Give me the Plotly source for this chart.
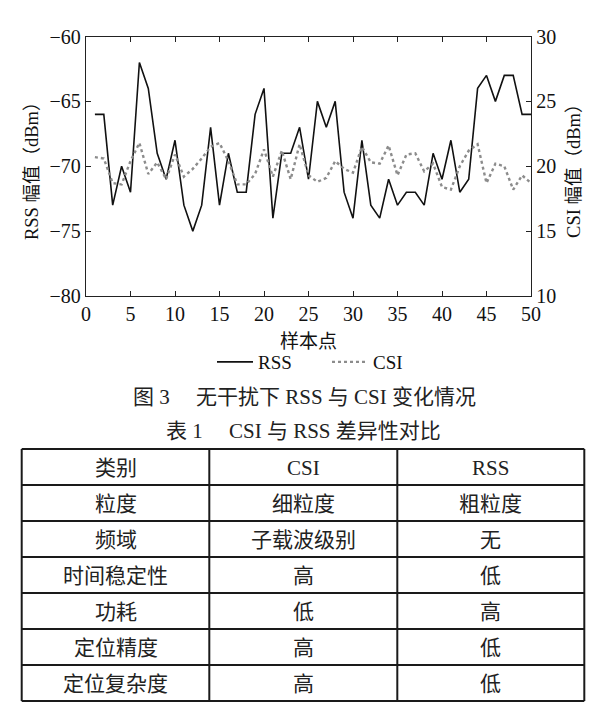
import plotly.graph_objects as go

W, H = 600, 721

sample = list(range(1, 51))
rss = [-66, -66, -73, -70, -72, -62, -64, -69, -71, -68,
       -73, -75, -73, -67, -73, -69, -72, -72, -66, -64,
       -74, -69, -69, -67, -71, -65, -67, -65, -72, -74,
       -68, -73, -74, -71, -73, -72, -72, -73, -69, -71,
       -68, -72, -71, -64, -63, -65, -63, -63, -66, -66]
csi = [20.7, 20.6, 18.7, 18.6, 20.4, 21.8, 19.4, 20.3, 19.0, 20.9,
       19.2, 19.8, 20.6, 21.5, 21.8, 20.4, 18.6, 18.6, 19.4, 21.3,
       19.2, 21.2, 19.0, 21.7, 19.3, 18.8, 19.1, 20.4, 19.8, 19.5,
       21.5, 20.3, 20.2, 21.6, 19.3, 20.9, 21.0, 19.6, 20.2, 18.4,
       18.2, 20.0, 21.2, 21.7, 18.7, 20.2, 20.0, 18.2, 19.3, 18.7]

x_ticks = [0, 5, 10, 15, 20, 25, 30, 35, 40, 45, 50]
y_ticks = [-80, -75, -70, -65, -60]
y2_ticks = [10, 15, 20, 25, 30]

fig_caption = "图 3\u3000 无干扰下 RSS 与 CSI 变化情况"
table_caption = "表 1\u3000 CSI 与 RSS 差异性对比"
table_header = ["类别", "CSI", "RSS"]
row_labels = ["粒度", "频域", "时间稳定性", "功耗", "定位精度", "定位复杂度"]
csi_props = ["细粒度", "子载波级别", "高", "低", "高", "高"]
rss_props = ["粗粒度", "无", "低", "高", "低", "低"]

FONT = "Liberation Serif, Times New Roman, Noto Sans CJK SC"

def px(x):
    return x / W

def py(y):
    return 1 - y / H

fig = go.Figure()
fig.add_trace(go.Scatter(x=sample, y=rss, mode="lines", name="RSS",
                         line=dict(color="#111111", width=1.6)))
fig.add_trace(go.Scatter(x=sample, y=csi, mode="lines", name="CSI", yaxis="y2",
                         line=dict(color="#8c8c8c", width=2.4, dash="dot")))

axis_common = dict(showgrid=False, zeroline=False, showline=True, linecolor="#222222",
                   linewidth=1.3, ticks="inside", ticklen=5, tickwidth=1.2, automargin=False,
                   tickcolor="#222222", tickfont=dict(family=FONT, size=20, color="#111111"))

fig.update_layout(
    width=W, height=H,
    margin=dict(l=0, r=0, t=0, b=0, autoexpand=False),
    paper_bgcolor="white", plot_bgcolor="white",
    font=dict(family=FONT, color="#111111"),
    xaxis=dict(domain=[px(86), px(531)], range=[0, 50], tickvals=x_ticks,
               mirror="ticks",
               title=dict(text="样本点", font=dict(family=FONT, size=19), standoff=10),
               **axis_common),
    yaxis=dict(domain=[py(296), py(36.5)], range=[-80, -60], tickvals=y_ticks,
               title=dict(text="RSS 幅值（dBm）", font=dict(family=FONT, size=18.5), standoff=6),
               **axis_common),
    yaxis2=dict(overlaying="y", side="right", anchor="x", range=[10, 30], tickvals=y2_ticks,
                title=dict(text="CSI 幅值（dBm）", font=dict(family=FONT, size=18.5), standoff=11),
                **axis_common),
    legend=dict(orientation="h", x=px(212), y=py(362), xanchor="left", yanchor="middle",
                font=dict(family=FONT, size=19), itemwidth=36, entrywidth=64,
                bgcolor="rgba(0,0,0,0)"),
    showlegend=True,
)

annotations = [
    dict(text=fig_caption, x=px(304), y=py(397), xref="paper", yref="paper",
         showarrow=False, font=dict(family=FONT, size=21, color="#222222")),
    dict(text=table_caption, x=px(303), y=py(431), xref="paper", yref="paper",
         showarrow=False, font=dict(family=FONT, size=21, color="#222222")),
]

col_x = [21.7, 209.3, 397.3, 584.3]
top, row_h = 449, 36
n_rows = 1 + len(row_labels)
rows = [table_header] + [[a, b, c] for a, b, c in zip(row_labels, csi_props, rss_props)]
for r, row in enumerate(rows):
    cy = top + row_h * (r + 0.5)
    for c, txt in enumerate(row):
        cx = (col_x[c] + col_x[c + 1]) / 2
        annotations.append(dict(text=txt, x=px(cx), y=py(cy + 1), xref="paper", yref="paper",
                                xanchor="center", yanchor="middle", showarrow=False,
                                font=dict(family=FONT, size=21, color="#222222")))

shapes = []
for k in range(n_rows + 1):
    yy = py(top + row_h * k)
    shapes.append(dict(type="line", xref="paper", yref="paper", x0=px(col_x[0]), x1=px(col_x[-1]),
                       y0=yy, y1=yy, line=dict(color="#1a1a1a", width=2)))
for cx in col_x:
    shapes.append(dict(type="line", xref="paper", yref="paper", x0=px(cx), x1=px(cx),
                       y0=py(top), y1=py(top + row_h * n_rows), line=dict(color="#1a1a1a", width=2)))

fig.update_layout(annotations=annotations, shapes=shapes)

fig.write_html("out.html", config={"displayModeBar": False},
               post_script="document.body.style.margin='0';document.body.style.overflow='hidden';")
